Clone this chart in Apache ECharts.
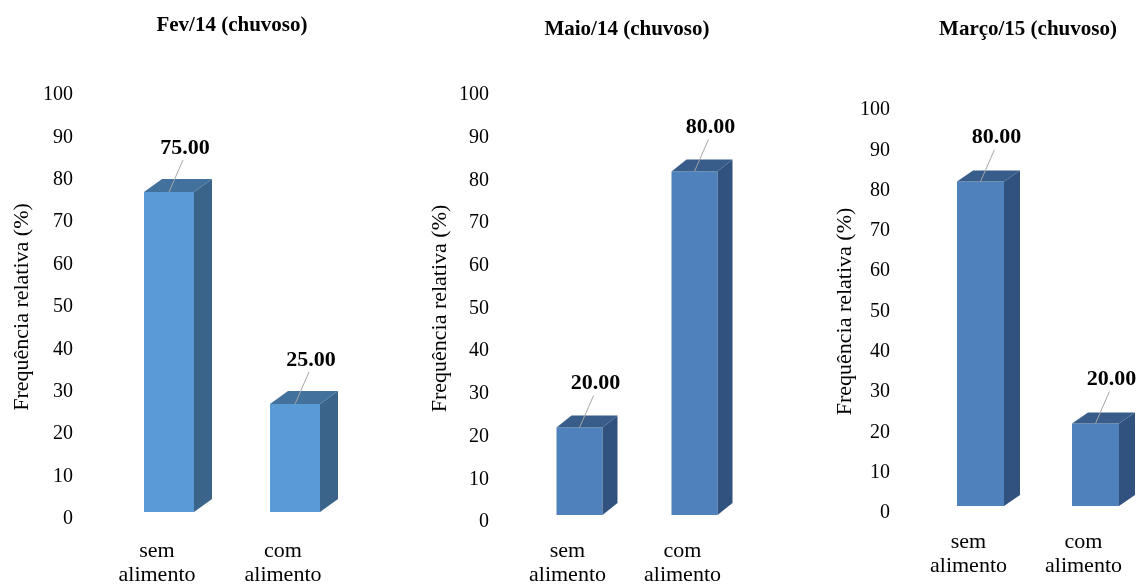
<!DOCTYPE html>
<html>
<head>
<meta charset="utf-8">
<title>Frequência relativa – alimento</title>
<script src="https://cdn.jsdelivr.net/npm/echarts@6/dist/echarts.min.js"></script>
<style>
  html, body { margin: 0; padding: 0; background: #ffffff; }
  #chart { width: 1141px; height: 587px; }
</style>
</head>
<body>
<div id="chart"></div>
<script>
// Categories and values for each sampling month
const categories = ['sem\nalimento', 'com\nalimento'];
const fev14 = [75, 25];
const maio14 = [20, 80];
const marco15 = [80, 20];
const panelTitles = ['Fev/14 (chuvoso)', 'Maio/14 (chuvoso)', 'Março/15 (chuvoso)'];
const yAxisTitle = 'Frequência relativa (%)';
const yMin = 0, yMax = 100, yStep = 10;

const SERIF = '"Liberation Serif", "Times New Roman", serif';

// Layout and look of each panel (grid box, bar geometry, face colours)
const panels = [
  { values: fev14, grid: { left: 94, top: 95, width: 252, height: 426 }, titleX: 232, titleY: 26,
    nameGap: 61, catMargin: 20, barW: 50, dx: 18, dy: 13,
    front: '#5B9BD5', side: '#3A6489', top: '#41719C' },
  { values: maio14, grid: { left: 510, top: 95, width: 230, height: 428 }, titleX: 627, titleY: 30,
    nameGap: 59, catMargin: 17, barW: 46, dx: 15, dy: 12,
    front: '#4F81BD', side: '#31527F', top: '#385D8A' },
  { values: marco15, grid: { left: 911, top: 110, width: 236, height: 403 }, titleX: 1028, titleY: 30,
    nameGap: 55, catMargin: 17, barW: 47, dx: 16, dy: 11,
    front: '#4F81BD', side: '#31527F', top: '#385D8A' }
];

// Pseudo-3D column: front face, right side, top face, plus a value label with leader line
function makeRenderer(p) {
  return function (params, api) {
    const idx = api.value(0);
    const val = api.value(1);
    const base = api.coord([idx, 0]);
    const tip = api.coord([idx, val]);
    const L = base[0] - p.barW / 2 + 12;
    const R = L + p.barW;
    const B = base[1] - 7;
    const T = tip[1] - 9;
    const cx = (L + R) / 2;
    const lx = cx + 16, ly = T - 44;
    return {
      type: 'group',
      children: [
        { type: 'rect', shape: { x: L, y: T, width: p.barW, height: B - T },
          style: { fill: p.front } },
        { type: 'polygon', shape: { points: [[R, B], [R + p.dx, B - p.dy], [R + p.dx, T - p.dy], [R, T]] },
          style: { fill: p.side } },
        { type: 'polygon', shape: { points: [[L, T], [L + p.dx, T - p.dy], [R + p.dx, T - p.dy], [R, T]] },
          style: { fill: p.top } },
        { type: 'line', shape: { x1: lx - 2, y1: ly + 12, x2: cx, y2: T },
          style: { stroke: '#A6A6A6', lineWidth: 1 } },
        { type: 'text', x: lx, y: ly,
          style: { text: val.toFixed(2), font: 'bold 22px ' + SERIF, fill: '#000',
                   textAlign: 'center', textVerticalAlign: 'middle' } }
      ]
    };
  };
}

const option = {
  backgroundColor: '#ffffff',
  animation: false,
  grid: panels.map(p => Object.assign({ containLabel: false }, p.grid)),
  xAxis: panels.map((p, i) => ({
    type: 'category', gridIndex: i, data: categories,
    axisLine: { show: false }, axisTick: { show: false }, splitLine: { show: false },
    axisLabel: { color: '#000', fontFamily: SERIF, fontSize: 22, lineHeight: 24, margin: p.catMargin }
  })),
  yAxis: panels.map((p, i) => ({
    type: 'value', gridIndex: i, min: yMin, max: yMax, interval: yStep,
    name: yAxisTitle, nameLocation: 'middle', nameGap: p.nameGap,
    nameTextStyle: { color: '#000', fontFamily: SERIF, fontSize: 22 },
    axisLine: { show: false }, axisTick: { show: false }, splitLine: { show: false },
    axisLabel: { color: '#000', fontFamily: SERIF, fontSize: 20, margin: 21, padding: [6, 0, 0, 0] }
  })),
  graphic: panels.map((p, i) => ({
    type: 'text', x: p.titleX, y: p.titleY,
    style: { text: panelTitles[i], font: 'bold 21px ' + SERIF, fill: '#000',
             textAlign: 'center', textVerticalAlign: 'middle' }
  })),
  series: panels.map((p, i) => ({
    type: 'custom', xAxisIndex: i, yAxisIndex: i, clip: false,
    renderItem: makeRenderer(p),
    encode: { x: 0, y: 1 },
    data: p.values.map((v, k) => [k, v])
  }))
};

const chart = echarts.init(document.getElementById('chart'), null, { renderer: 'canvas' });
chart.setOption(option);
</script>
</body>
</html>
